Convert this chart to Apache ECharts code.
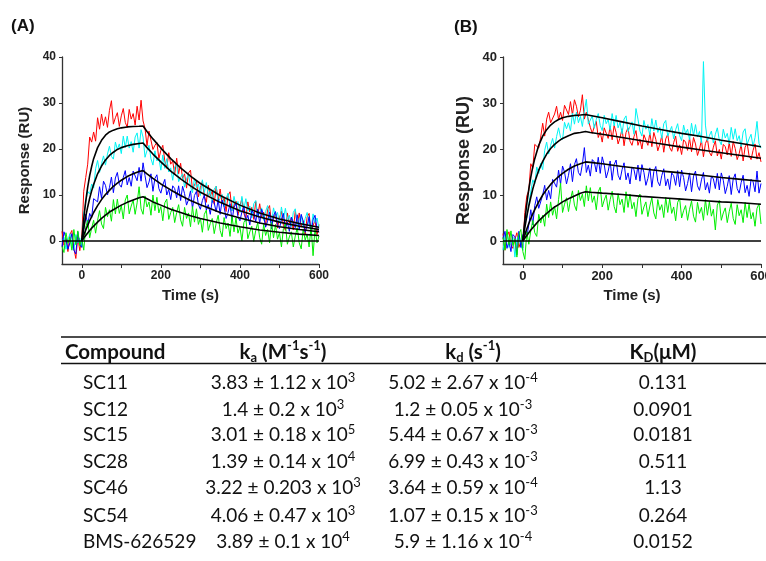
<!DOCTYPE html>
<html><head><meta charset="utf-8">
<script src="https://cdn.jsdelivr.net/npm/echarts@6/dist/echarts.min.js"></script>
<style>html,body{margin:0;padding:0;background:#fff}#c{width:766px;height:561px}</style>
</head><body><div id="c"></div>
<script>
// ---------- sensorgram sample times (s) ----------
const timeGrid = [-50,-45,-40,-35,-30,-25,-20,-15,-10,-5,
0,5,10,15,20,25,30,35,40,45,
50,55,60,65,70,75,80,85,90,95,
100,105,110,115,120,125,130,135,140,145,
150,155,160,165,170,175,180,185,190,195,
200,205,210,215,220,225,230,235,240,245,
250,255,260,265,270,275,280,285,290,295,
300,305,310,315,320,325,330,335,340,345,
350,355,360,365,370,375,380,385,390,395,
400,405,410,415,420,425,430,435,440,445,
450,455,460,465,470,475,480,485,490,495,
500,505,510,515,520,525,530,535,540,545,
550,555,560,565,570,575,580,585,590,595,
600];

// ---------- panel A raw responses (RU) ----------
const aRed = [2.1,-0.9,0.5,-2.3,1.4,2.3,-1.6,-3.8,0.9,-2.1,
0.7,10.8,13.8,16.7,22.6,21.5,23.7,21.7,26.8,24.3,
27.6,25.1,27.0,24.7,28.4,30.5,25.4,26.8,27.9,24.9,
27.2,28.8,25.8,24.7,28.6,26.5,27.7,25.2,29.3,26.3,
30.6,26.1,24.5,20.7,23.9,24.3,19.9,20.8,21.4,17.9,
19.7,20.8,17.4,15.8,19.2,16.7,17.4,14.4,18.0,14.6,
16.9,13.6,14.6,11.5,14.8,15.4,11.2,12.2,13.0,9.6,
11.6,13.0,9.7,8.4,12.1,9.8,10.8,8.0,11.9,8.7,
11.3,8.1,9.4,6.4,9.9,10.7,6.6,7.8,8.7,5.6,
7.7,9.2,6.0,4.8,8.5,6.3,7.3,4.7,8.6,5.5,
8.1,5.0,6.3,3.3,6.9,7.7,3.7,5.0,5.9,2.8,
5.0,6.5,3.4,2.3,6.1,3.9,5.0,2.4,6.5,3.4,
6.1,3.0,4.4,1.5,5.2,6.0,2.0,3.4,4.4,1.4,
3.6];
const aCyan = [-0.2,0.8,-1.8,0.2,1.6,-1.0,-2.0,1.4,-0.4,0.6,
-1.3,6.0,6.4,10.8,10.2,12.4,11.5,15.7,17.5,14.9,
16.8,18.5,16.5,18.9,20.6,18.4,17.8,21.5,19.9,21.1,
19.0,22.8,20.3,22.8,20.2,21.6,19.3,22.6,23.5,20.2,
24.2,22.6,18.2,19.7,20.8,17.9,16.5,19.6,17.4,18.0,
15.4,18.7,15.8,17.9,15.0,15.9,13.2,16.1,16.6,12.9,
13.8,14.6,11.7,13.5,14.6,11.8,10.5,13.7,11.6,12.4,
9.9,13.3,10.5,12.7,9.9,10.9,8.3,11.3,11.9,8.3,
9.3,10.1,7.4,9.2,10.4,7.6,6.5,9.7,7.7,8.6,
6.2,9.7,6.9,9.2,6.5,7.6,5.0,8.1,8.8,5.2,
6.3,7.2,4.5,6.4,7.7,5.0,3.9,7.2,5.3,6.2,
3.9,7.4,4.8,7.1,4.4,5.6,3.1,6.2,7.0,3.5,
4.6,5.6,2.9,4.9,6.2,3.6,2.5,5.9,4.0,5.0,
2.7];
const aBlue = [-1.2,2.0,0.6,-1.8,-0.4,1.6,-2.0,-2.8,2.0,-0.8,
-1.4,2.4,5.8,3.6,6.0,5.0,9.2,9.6,8.5,11.8,
9.3,13.0,12.1,10.0,11.6,13.9,10.5,13.7,14.9,12.3,
11.7,13.8,15.3,12.2,13.8,11.9,15.2,14.9,13.1,16.0,
13.0,17.0,14.2,11.6,12.8,14.6,10.8,13.6,14.4,11.4,
10.4,12.2,13.4,10.0,11.2,9.0,12.0,11.4,9.4,12.0,
8.8,11.9,10.3,7.8,9.0,10.9,7.1,9.9,10.8,7.9,
6.9,8.8,10.0,6.7,7.9,5.8,8.8,8.3,6.3,9.0,
5.8,8.9,7.4,4.9,6.2,8.1,4.4,7.3,8.2,5.3,
4.4,6.3,7.6,4.3,5.6,3.5,6.6,6.1,4.2,6.9,
3.8,6.9,5.5,3.0,4.3,6.3,2.6,5.5,6.4,3.6,
2.7,4.7,6.0,2.8,4.1,2.1,5.2,4.8,2.9,5.7,
2.6,5.8,4.3,1.9,3.3,5.3,1.6,4.6,5.6,2.7,
1.9];
const aGreen = [-1.2,-2.5,1.8,-0.5,0.8,-2.0,2.5,-0.8,2.2,-1.0,
0.5,-2.0,3.0,4.5,0.7,2.8,4.5,1.7,4.5,6.6,
3.7,2.7,7.3,5.3,6.8,4.3,9.0,5.9,9.1,6.0,
7.7,4.8,8.9,10.0,5.9,7.6,8.9,5.8,8.3,11.8,
7.0,5.8,9.8,7.4,8.5,5.6,10.0,6.6,9.5,6.1,
7.5,4.4,8.3,9.1,4.7,6.2,7.3,4.0,6.2,7.9,
4.6,3.2,7.3,4.9,6.1,3.1,7.5,4.1,7.0,3.6,
5.0,1.9,5.8,6.7,2.3,3.8,4.9,1.6,3.9,5.6,
2.3,0.9,5.1,2.7,3.9,1.0,5.4,2.0,5.0,1.7,
3.1,0.0,4.0,4.9,0.5,2.0,3.2,-0.1,2.3,4.0,
0.7,-0.7,3.6,1.2,2.5,-0.4,4.0,0.7,3.6,0.4,
1.8,-1.3,2.7,3.7,-0.7,0.9,2.0,-1.3,1.1,2.9,
-0.4,-1.7,2.6,0.2,1.5,-1.3,3.2,-3.2,2.8,-0.4,
1.1];

// ---------- panel B raw responses (RU) ----------
const bRed = [1.6,-2.0,1.0,2.0,-0.8,-1.6,0.4,1.8,-1.4,0.0,
-1.5,6.2,9.8,11.0,16.8,15.8,21.0,21.1,20.2,22.6,
25.6,22.8,26.5,28.0,25.7,25.3,27.6,29.3,26.4,28.0,
26.2,29.5,29.2,27.5,30.3,27.4,30.7,29.3,27.0,28.4,
31.8,26.5,28.0,28.2,24.7,23.4,24.9,26.0,22.5,23.7,
21.5,24.6,24.2,22.3,25.0,22.0,25.1,23.6,21.1,22.5,
24.4,20.7,23.6,24.6,21.7,20.8,22.7,24.0,20.8,22.1,
20.0,23.1,22.7,20.8,23.5,20.5,23.6,22.1,19.6,21.0,
22.9,19.3,22.2,23.2,20.3,19.5,21.4,22.8,19.5,20.9,
18.8,22.0,21.5,19.7,22.4,19.4,22.5,21.1,18.6,20.0,
21.9,18.3,21.2,22.2,19.3,18.5,20.4,21.8,18.5,19.9,
17.8,21.0,20.5,18.7,21.4,18.4,21.6,20.1,17.7,19.0,
21.0,17.4,20.4,21.3,18.5,17.7,19.7,21.1,17.8,19.2,
17.2];
const bCyan = [-2.0,1.2,2.0,-1.4,-0.2,0.8,-3.5,0.2,1.6,-1.0,
-2.0,4.4,5.1,8.1,7.9,13.3,12.4,16.1,14.7,16.9,
15.5,19.7,21.5,18.9,20.8,22.3,20.2,22.7,24.6,22.5,
22.0,25.8,24.4,25.7,23.9,27.8,25.4,28.0,25.7,27.1,
24.9,28.2,30.8,25.4,26.3,27.2,24.5,26.4,27.7,25.1,
24.0,27.3,25.5,26.4,24.1,27.7,25.0,27.3,24.6,25.8,
23.3,26.5,27.2,23.8,24.9,25.9,23.2,28.8,26.5,23.9,
22.8,26.2,24.3,25.3,23.0,26.6,23.9,26.3,23.6,24.8,
22.3,25.5,26.2,22.8,23.9,24.9,22.2,24.2,25.5,22.9,
21.8,25.2,23.3,24.3,22.0,25.6,22.9,25.3,22.6,23.8,
21.3,39.0,25.2,21.8,22.9,23.9,21.3,23.2,24.6,21.9,
20.9,24.3,22.4,23.4,21.1,24.7,22.1,24.4,21.8,22.9,
20.5,23.7,24.4,21.0,22.2,23.2,20.5,22.5,26.0,21.2,
20.2];
const bBlue = [0.5,2.1,-1.6,0.0,-2.3,1.4,0.9,-3.0,2.1,-1.4,
1.3,2.2,0.9,3.5,6.8,3.5,7.7,9.6,7.1,7.0,
10.0,12.1,8.9,11.0,9.2,13.4,13.4,11.7,15.4,12.3,
16.3,15.0,12.4,14.3,16.8,12.9,16.6,17.9,14.9,14.2,
16.7,20.3,14.9,16.5,14.1,17.7,17.2,15.0,18.2,14.7,
18.3,16.6,13.7,15.2,17.4,13.2,16.6,17.6,14.3,13.3,
15.5,17.0,13.3,14.8,12.4,16.1,15.5,13.3,16.5,13.0,
16.6,14.9,12.1,13.6,15.9,11.7,15.1,16.2,12.9,12.0,
14.2,15.7,12.0,13.5,11.2,14.8,14.2,12.1,15.3,11.8,
15.4,13.8,10.9,12.5,14.8,10.7,14.1,15.2,12.0,11.0,
13.3,14.9,11.1,12.7,10.4,14.1,13.5,11.4,14.7,11.1,
14.8,13.2,10.3,11.9,14.2,10.1,13.5,14.6,11.4,10.4,
12.7,14.3,10.5,12.1,9.7,13.4,12.9,10.7,15.2,10.4,
12.5];
const bGreen = [0.8,-2.0,2.5,-0.8,2.2,-1.0,0.5,-3.5,1.5,2.5,
-2.3,-4.0,2.0,-0.7,2.2,4.5,1.8,1.0,5.8,3.9,
5.6,3.2,8.0,5.1,8.5,5.6,7.5,4.8,9.0,12.6,
6.2,8.0,9.4,6.4,9.0,10.9,7.8,6.6,11.0,8.8,
10.2,7.5,12.0,8.7,11.6,8.4,9.8,6.8,10.7,11.7,
7.4,8.9,10.0,6.7,9.0,10.8,7.5,6.1,10.3,7.9,
9.1,6.2,10.7,7.3,10.2,7.0,8.4,5.3,9.2,10.2,
5.8,7.4,8.5,5.3,7.6,9.4,6.1,4.8,9.0,6.7,
7.9,5.1,9.5,6.2,9.2,6.0,7.4,4.4,8.4,9.3,
5.0,6.6,7.7,4.5,6.9,8.7,5.4,4.1,8.4,6.0,
7.3,4.5,9.0,5.6,8.6,5.4,6.9,2.4,7.8,8.8,
4.5,6.1,7.2,4.0,6.4,8.2,4.9,3.6,7.9,5.5,
6.8,4.0,8.4,5.1,8.0,4.8,6.2,3.2,7.1,8.1,
3.7];

// ---------- fitted curves (black) ----------
const fitTimeA = [0,3,6,10,15,20,25,30,40,50,60,70,80,90,100,115,130,145,155,165,180,200,225,250,275,300,350,400,450,500,550,600];
const fitA1 = [0,3.0,5.6,8.6,11.7,14.2,16.2,17.9,20.3,21.9,23.0,23.7,24.1,24.4,24.6,24.8,24.9,24.95,25.0,23.8,22.2,20.2,17.9,15.9,14.1,12.5,9.9,7.8,6.1,4.8,3.8,3.0];
const fitA2 = [0,1.7,3.3,5.3,7.4,9.3,10.9,12.3,14.6,16.3,17.6,18.6,19.3,19.9,20.3,20.7,21.0,21.2,21.3,20.3,18.9,17.2,15.2,13.5,12.0,10.6,8.4,6.6,5.2,4.1,3.2,2.5];
const fitA3 = [0,0.75,1.5,2.4,3.4,4.4,5.3,6.2,7.7,9.0,10.1,11.0,11.9,12.6,13.2,14.0,14.6,15.1,15.3,14.6,13.6,12.4,11.1,9.9,8.8,7.9,6.2,5.0,3.9,3.1,2.5,2.0];
const fitA4 = [0,0.38,0.74,1.2,1.75,2.3,2.8,3.2,4.1,4.9,5.6,6.3,6.8,7.3,7.8,8.4,8.9,9.4,9.6,9.2,8.5,7.8,6.9,6.2,5.5,4.9,3.9,3.1,2.4,1.9,1.5,1.2];
const fitTimeB = [0,3,6,10,15,20,25,30,40,50,60,70,80,90,100,115,130,145,158,170,200,250,300,350,400,450,500,550,600];
const fitB1 = [0,2.8,5.2,8.1,11.3,13.9,16.1,17.9,20.8,22.8,24.2,25.2,25.9,26.4,26.8,27.1,27.3,27.4,27.5,27.3,26.8,25.9,25.0,24.2,23.4,22.7,21.9,21.2,20.5];
const fitB2 = [0,1.8,3.4,5.4,7.6,9.5,11.3,12.8,15.4,17.3,18.9,20.1,21.0,21.7,22.3,22.9,23.4,23.6,23.8,23.6,23.2,22.5,21.8,21.1,20.4,19.8,19.2,18.6,18.0];
const fitB3 = [0,0.84,1.6,2.6,3.8,4.9,5.9,6.8,8.5,10.0,11.2,12.3,13.2,14.0,14.7,15.6,16.3,16.8,17.2,17.1,16.8,16.2,15.7,15.2,14.8,14.3,13.8,13.4,13.0];
const fitB4 = [0,0.39,0.76,1.2,1.8,2.4,2.9,3.4,4.4,5.2,6.0,6.7,7.4,7.9,8.5,9.2,9.8,10.4,10.7,10.6,10.4,10.1,9.7,9.4,9.1,8.8,8.5,8.3,8.0];
const baseTime = [-50, 600];
const baseValue = [0, 0];

// ---------- axis ticks ----------
const xTickValues = [0,100,200,300,400,500,600];
const xLabelValues = [0,200,400,600];
const yTickValues = [0,10,20,30,40];

// ---------- table ----------
const compounds = ['SC11','SC12','SC15','SC28','SC46','SC54','BMS-626529'];
const kaMant = ['3.83 ± 1.12 x 10','1.4 ± 0.2 x 10','3.01 ± 0.18 x 10','1.39 ± 0.14 x 10','3.22 ± 0.203 x 10','4.06 ± 0.47 x 10','3.89 ± 0.1 x 10'];
const kaExp = ['3','3','5','4','3','3','4'];
const kdMant = ['5.02 ± 2.67 x 10','1.2 ± 0.05 x 10','5.44 ± 0.67 x 10','6.99 ± 0.43 x 10','3.64 ± 0.59 x 10','1.07 ± 0.15 x 10','5.9 ± 1.16 x 10'];
const kdExp = ['-4','-3','-3','-3','-4','-3','-4'];
const KDvals = ['0.131','0.0901','0.0181','0.511','1.13','0.264','0.0152'];

// ---------- build ----------
const pairs = (ts, vs) => ts.map((t, i) => [t, vs[i]]);
const AX = '#333';
const FF = 'Liberation Sans, Arial, sans-serif';

function xAx(gi, fs) {
  return {
    type: 'value', gridIndex: gi, min: -50, max: 600,
    axisLine: { show: true, onZero: false, lineStyle: { color: AX, width: 1.3 } },
    axisTick: { show: true, customValues: xTickValues, length: 4, lineStyle: { color: AX } },
    axisLabel: { show: true, customValues: xLabelValues, fontSize: fs, fontWeight: 'bold', color: '#222', margin: 6, fontFamily: FF, hideOverlap: false },
    splitLine: { show: false },
    name: 'Time (s)', nameLocation: 'middle', nameGap: 24,
    nameTextStyle: { fontSize: 15, fontWeight: 'bold', color: '#222', fontFamily: FF }
  };
}
function yAx(gi, fs, nfs) {
  return {
    type: 'value', gridIndex: gi, min: -5, max: 40,
    axisLine: { show: true, onZero: false, lineStyle: { color: AX, width: 1.3 } },
    axisTick: { show: true, customValues: yTickValues, length: 3, lineStyle: { color: AX } },
    axisLabel: { show: true, customValues: yTickValues, fontSize: fs, fontWeight: 'bold', color: '#222', margin: 6, fontFamily: FF },
    splitLine: { show: false },
    name: 'Response (RU)', nameLocation: 'middle', nameGap: 30, nameRotate: 90,
    nameTextStyle: { fontSize: nfs, fontWeight: 'bold', color: '#222', fontFamily: FF }
  };
}
function ln(gi, ts, vs, color, w, z) {
  return {
    type: 'line', xAxisIndex: gi, yAxisIndex: gi, data: pairs(ts, vs),
    showSymbol: false, symbol: 'none', silent: true, clip: true, z: z,
    lineStyle: { color: color, width: w }, emphasis: { disabled: true }
  };
}

const series = [
  ln(0, timeGrid, aRed, '#ff0000', 1, 2),
  ln(0, timeGrid, aCyan, '#00f4f4', 1, 2),
  ln(0, timeGrid, aBlue, '#0000ff', 1, 2),
  ln(0, timeGrid, aGreen, '#00ee00', 1, 2),
  ln(0, baseTime, baseValue, '#000', 1.6, 3),
  ln(0, fitTimeA, fitA1, '#000', 1.6, 3),
  ln(0, fitTimeA, fitA2, '#000', 1.6, 3),
  ln(0, fitTimeA, fitA3, '#000', 1.6, 3),
  ln(0, fitTimeA, fitA4, '#000', 1.6, 3),
  ln(1, timeGrid, bRed, '#ff0000', 1, 2),
  ln(1, timeGrid, bCyan, '#00f4f4', 1, 2),
  ln(1, timeGrid, bBlue, '#0000ff', 1, 2),
  ln(1, timeGrid, bGreen, '#00ee00', 1, 2),
  ln(1, baseTime, baseValue, '#000', 1.6, 3),
  ln(1, fitTimeB, fitB1, '#000', 1.6, 3),
  ln(1, fitTimeB, fitB2, '#000', 1.6, 3),
  ln(1, fitTimeB, fitB3, '#000', 1.6, 3),
  ln(1, fitTimeB, fitB4, '#000', 1.6, 3)
];

// table graphics
const TF = 'Lato, Open Sans, sans-serif';
const TS = 19;
const HS = 20.5;
const rich = {
  n: { fontSize: TS, fontFamily: TF, fill: '#111', lineHeight: 24 },
  sup: { fontSize: 13, fontFamily: TF, fill: '#111', lineHeight: 14, verticalAlign: 'top' },
  b: { fontSize: HS, fontFamily: TF, fontWeight: 'bold', fill: '#111', lineHeight: 25 },
  bsub: { fontSize: 13, fontFamily: TF, fontWeight: 'bold', fill: '#111', lineHeight: 13, verticalAlign: 'bottom' },
  bsup: { fontSize: 13, fontFamily: TF, fontWeight: 'bold', fill: '#111', lineHeight: 14, verticalAlign: 'top' }
};
function txt(text, x, y, align) {
  return {
    type: 'text', silent: true, z: 10,
    style: { text: text, x: x, y: y, rich: rich, fill: '#111', font: TS + 'px ' + TF,
      align: align, textAlign: align, verticalAlign: 'middle', textVerticalAlign: 'middle' }
  };
}
const rowY = [383, 410, 435, 462, 488, 516, 542];
const graphics = [
  { type: 'text', silent: true, style: { text: '(A)', x: 11, y: 26, font: 'bold 17px ' + FF, fill: '#111', align: 'left', textAlign: 'left', verticalAlign: 'middle', textVerticalAlign: 'middle' } },
  { type: 'text', silent: true, style: { text: '(B)', x: 454, y: 27, font: 'bold 17px ' + FF, fill: '#111', align: 'left', textAlign: 'left', verticalAlign: 'middle', textVerticalAlign: 'middle' } },
  { type: 'line', silent: true, shape: { x1: 61, y1: 337, x2: 766, y2: 337 }, style: { stroke: '#111', lineWidth: 1.5 } },
  { type: 'line', silent: true, shape: { x1: 61, y1: 363.5, x2: 766, y2: 363.5 }, style: { stroke: '#111', lineWidth: 1.5 } },
  txt('{b|Compound}', 65, 352, 'left'),
  txt('{b|k}{bsub|a}{b| (M}{bsup|-1}{b|s}{bsup|-1}{b|)}', 283, 352, 'center'),
  txt('{b|k}{bsub|d}{b| (s}{bsup|-1}{b|)}', 473, 352, 'center'),
  txt('{b|K}{bsub|D}{b|(μM)}', 663, 352, 'center')
];
compounds.forEach((c, i) => {
  graphics.push(txt('{n|' + c + '}', 83, rowY[i], 'left'));
  graphics.push(txt('{n|' + kaMant[i] + '}{sup|' + kaExp[i] + '}', 283, rowY[i], 'center'));
  graphics.push(txt('{n|' + kdMant[i] + '}{sup|' + kdExp[i] + '}', 463, rowY[i], 'center'));
  graphics.push(txt('{n|' + KDvals[i] + '}', 663, rowY[i], 'center'));
});

const chart = echarts.init(document.getElementById('c'), null, { renderer: 'canvas' });
chart.setOption({
  animation: false,
  backgroundColor: '#fff',
  grid: [
    { left: 62, top: 57, width: 257, height: 207, containLabel: false, outerBoundsMode: 'none' },
    { left: 503, top: 57, width: 258, height: 207, containLabel: false, outerBoundsMode: 'none' }
  ],
  xAxis: [xAx(0, 12), xAx(1, 13)],
  yAxis: [yAx(0, 12, 15), yAx(1, 13, 18)],
  series: series,
  graphic: graphics
});
</script></body></html>
